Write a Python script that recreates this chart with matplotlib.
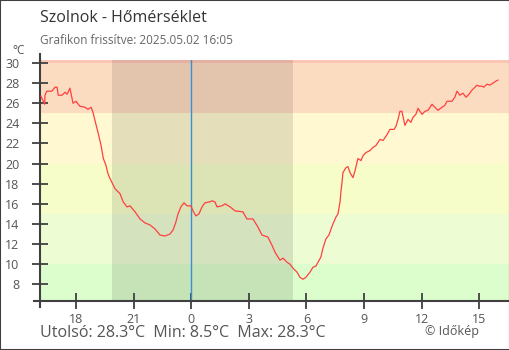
import numpy as np
import matplotlib
matplotlib.use("Agg")
import matplotlib.pyplot as plt
from matplotlib.patches import Rectangle
from matplotlib.lines import Line2D

plt.rcParams['font.family'] = ['Open Sans', 'DejaVu Sans']

# hours relative to midnight (2025.05.02 00:00), negative = previous day
hours = [-7.83, -7.71, -7.64, -7.62, -7.53, -7.26, -7.10, -6.99, -6.93, -6.73,
         -6.58, -6.47, -6.32, -6.16, -6.01, -5.80, -5.54, -5.38, -5.22, -5.12,
         -5.02, -4.86, -4.70, -4.58, -4.44, -4.34, -4.23, -3.97, -3.71, -3.55,
         -3.35, -3.19, -2.93, -2.67, -2.41, -2.15, -1.89, -1.63, -1.37, -1.11,
         -0.95, -0.80, -0.69, -0.54, -0.38, -0.22, -0.02, 0.09, 0.24, 0.40,
         0.56, 0.71, 0.97, 1.08, 1.23, 1.34, 1.60, 1.76, 2.02, 2.28,
         2.69, 2.90, 3.21, 3.47, 3.68, 3.99, 4.20, 4.36, 4.52, 4.62,
         4.78, 4.98, 5.14, 5.30, 5.51, 5.66, 5.82, 5.97, 6.18, 6.34,
         6.49, 6.60, 6.75, 6.86, 7.01, 7.17, 7.28, 7.38, 7.54, 7.64,
         7.75, 7.80, 7.85, 7.90, 8.06, 8.16, 8.27, 8.42, 8.53, 8.68,
         8.84, 8.95, 9.10, 9.31, 9.46, 9.62, 9.83, 9.99, 10.20, 10.35,
         10.56, 10.66, 10.77, 10.87, 10.97, 11.13, 11.29, 11.44, 11.55, 11.70,
         11.81, 11.91, 12.02, 12.17, 12.33, 12.54, 12.64, 12.85, 13.06, 13.21,
         13.32, 13.58, 13.73, 13.84, 13.99, 14.15, 14.31, 14.47, 14.62, 14.73,
         14.88, 14.98, 15.14, 15.24, 15.40, 15.55, 15.71, 15.87, 15.97]
temps = [26.7, 26.2, 25.9, 26.8, 27.2, 27.2, 27.6, 27.6, 26.8, 26.8,
         27.1, 26.9, 27.5, 26.0, 26.2, 25.7, 25.6, 25.4, 25.6, 25.1,
         24.3, 23.1, 21.8, 20.5, 19.8, 19.0, 18.5, 17.5, 17.0, 16.2,
         15.7, 15.8, 15.2, 14.5, 14.1, 13.9, 13.5, 12.9, 12.8, 13.0,
         13.4, 14.2, 15.0, 15.7, 16.1, 15.8, 15.8, 15.3, 14.8, 15.0,
         15.7, 16.1, 16.2, 16.3, 16.2, 15.7, 15.8, 16.0, 15.7, 15.3,
         15.2, 14.5, 14.5, 13.7, 12.9, 12.7, 11.9, 11.2, 10.7, 10.4,
         10.6, 10.2, 10.0, 9.6, 9.2, 8.7, 8.5, 8.7, 9.2, 9.7,
         9.8, 10.2, 10.7, 11.6, 12.5, 12.9, 13.5, 14.0, 14.7, 15.0,
         16.2, 17.3, 18.1, 19.1, 19.6, 19.7, 19.1, 18.6, 19.3, 20.5,
         20.3, 20.8, 21.1, 21.3, 21.6, 21.8, 22.4, 22.3, 22.9, 23.4,
         23.4, 23.7, 24.4, 25.2, 25.2, 23.8, 24.4, 24.1, 24.6, 24.9,
         25.5, 25.2, 24.9, 25.2, 25.3, 25.9, 25.7, 25.3, 25.6, 25.8,
         26.2, 26.2, 26.6, 27.2, 26.8, 27.0, 26.6, 26.9, 27.3, 27.5,
         27.8, 27.7, 27.7, 27.6, 27.9, 27.8, 28.0, 28.2, 28.3]

band_edges = [-50, 10, 15, 20, 25, 30, 60]
band_colors = ['#dcfdcc', '#eefcd4', '#f6fdc9', '#fff8d0', '#fcdcc0', '#fdc5b5']
sunset = -4.13
sunrise = 5.30
xtick_pos = [-6, -3, 0, 3, 6, 9, 12, 15]
xtick_lab = ['18', '21', '0', '3', '6', '9', '12', '15']
yticks = list(range(8, 31, 2))

fig = plt.figure(figsize=(5.1, 3.5), dpi=100)
ax = fig.add_axes([40.3 / 510, 1 - 300.7 / 350, (509 - 40.3) / 510, (300.7 - 60) / 350])

xmin, xmax = -7.865, 16.55
ymin, ymax = 6.37, 30.3

for lo, hi, c in zip(band_edges[:-1], band_edges[1:], band_colors):
    ax.axhspan(lo, hi, color=c, lw=0, zorder=0)
ax.axvspan(sunset, sunrise, color='black', alpha=0.1, lw=0, zorder=1)
ax.axvline(0, color='#3a8fd0', lw=1, zorder=2)

ax.plot(hours, temps, color='#ff4040', lw=0.9, zorder=3)

ax.set_xlim(xmin, xmax)
ax.set_ylim(ymin, ymax)
ax.set_xticks(xtick_pos)
ax.set_xticklabels(xtick_lab)
ax.set_yticks(yticks)

for s in ['top', 'right']:
    ax.spines[s].set_visible(False)
for s in ['left', 'bottom']:
    ax.spines[s].set_color('#404040')
    ax.spines[s].set_linewidth(1.5)
ax.tick_params(direction='inout', length=12, width=1.3, color='#404040',
               labelcolor='#555555', labelsize=9)
ax.tick_params(axis='y', pad=9)
ax.tick_params(axis='x', pad=3)

# small spine overhangs
ax.add_line(Line2D([0, 0], [1, 1.025], transform=ax.transAxes, color='#404040',
                   lw=1.5, clip_on=False))
ax.add_line(Line2D([-0.013, 0], [0, 0], transform=ax.transAxes, color='#404040',
                   lw=1.5, clip_on=False))
ax.add_line(Line2D([0, 0], [0, -0.025], transform=ax.transAxes, color='#404040',
                   lw=1.5, clip_on=False))

fig.text(40 / 510, 1 - 18 / 350, 'Szolnok - Hőmérséklet', fontsize=11.5,
         color='#333333', va='center', ha='left')
fig.text(40 / 510, 1 - 40 / 350, 'Grafikon frissítve: 2025.05.02 16:05', fontsize=8.5,
         color='#666666', va='center', ha='left')
fig.text(12 / 510, 1 - 51 / 350, '°C', fontsize=8.5, color='#555555', va='center', ha='left')
fig.text(40 / 510, 1 - 333 / 350, 'Utolsó: 28.3°C  Min: 8.5°C  Max: 28.3°C', fontsize=11.5,
         color='#555555', va='center', ha='left')
fig.text(425 / 510, 1 - 331 / 350, '© Időkép', fontsize=9, color='#555555',
         va='center', ha='left')

fig.patches.append(Rectangle((0, 0), 1, 1, transform=fig.transFigure, fill=False,
                             edgecolor='#404040', lw=1.5))

fig.savefig('out.png', dpi=100)
